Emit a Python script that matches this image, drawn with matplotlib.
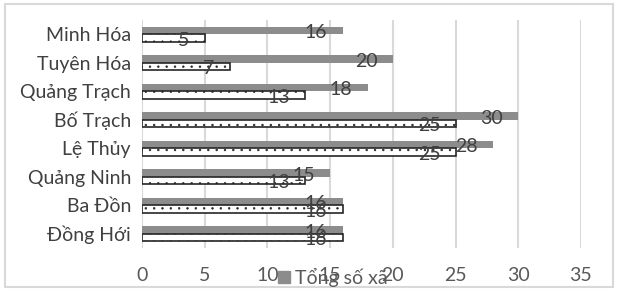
import matplotlib
matplotlib.use("Agg")
import matplotlib.pyplot as plt
from matplotlib.patches import Rectangle, Patch

plt.rcParams['font.family'] = ['Lato', 'DejaVu Sans']
plt.rcParams['hatch.color'] = '#b0b0b0'
plt.rcParams['hatch.linewidth'] = 0.5

categories = ["Đồng Hới", "Ba Đồn", "Quảng Ninh", "Lệ Thủy", "Bố Trạch",
              "Quảng Trạch", "Tuyên Hóa", "Minh Hóa"]
tong_so_xa = [16, 16, 15, 28, 30, 18, 20, 16]
series2 = [16, 16, 13, 25, 25, 13, 7, 5]
xticks = [0, 5, 10, 15, 20, 25, 30, 35]

fig = plt.figure(figsize=(6.17, 2.91), dpi=100)
fig.patches.append(Rectangle((5/617, 4/291), 608/617, 283/291, transform=fig.transFigure,
                             fill=False, edgecolor='#d9d9d9', linewidth=1.5))
ax = fig.add_axes([142/617, 1-248/291, 439/617, 228/291])

y = list(range(len(categories)))
h = 0.25
off = 0.13
grey = '#8c8c8c'
ax.barh([v + off for v in y], tong_so_xa, height=h, color=grey, zorder=3)
ax.barh([v - off for v in y], series2, height=h, color='white', edgecolor='#262626',
        linewidth=1.2, hatch='..', zorder=3)

fs = 14
for yy, v in zip(y, tong_so_xa):
    ax.annotate(str(v), (v, yy + off), xytext=(-11, -1.5), textcoords='offset points',
                ha='right', va='center', fontsize=fs, color='#404040', zorder=5)
for yy, v in zip(y, series2):
    ax.annotate(str(v), (v, yy - off), xytext=(-11, -1.5), textcoords='offset points',
                ha='right', va='center', fontsize=fs, color='#404040', zorder=5)

ax.set_xlim(0, 35)
ax.set_ylim(-0.5, 7.5)
ax.set_xticks(xticks)
ax.set_xticklabels([str(t) for t in xticks])
ax.set_yticks(y)
ax.set_yticklabels(categories)
ax.tick_params(axis='x', length=0, pad=14, labelsize=fs, labelcolor='#595959')
ax.tick_params(axis='y', length=0, pad=8, labelsize=fs, labelcolor='#404040')
for s in ax.spines.values():
    s.set_visible(False)
ax.grid(axis='x', color='#d9d9d9', linewidth=1.5, zorder=0)
ax.set_axisbelow(True)

fig.legend(handles=[Patch(color=grey, label='Tổng số xã')], loc='center',
           bbox_to_anchor=(333/617, 1-277/291), frameon=False, fontsize=fs,
           handlelength=0.6, handleheight=0.6, handletextpad=0.3, labelcolor='#595959')

fig.savefig('out.png', dpi=100)
